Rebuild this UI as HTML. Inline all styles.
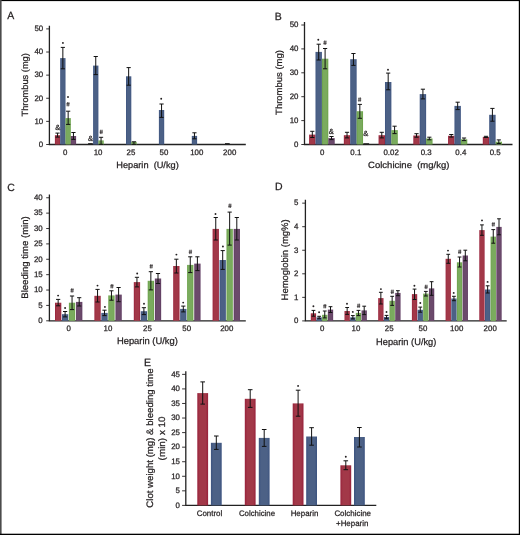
<!DOCTYPE html>
<html><head><meta charset="utf-8"><style>
html,body{margin:0;padding:0;background:#fff;}
svg{display:block;will-change:transform;}
text{font-family:"Liberation Sans",sans-serif;fill:#231f20;text-rendering:geometricPrecision;stroke:#231f20;stroke-width:0.25px;}
</style></head><body>
<svg width="520" height="535" viewBox="0 0 520 535">
<defs>
<linearGradient id="gr" x1="0" x2="1" y1="0" y2="0"><stop offset="0" stop-color="#98203a"/><stop offset="0.22" stop-color="#a23848"/><stop offset="0.78" stop-color="#a23848"/><stop offset="1" stop-color="#98203a"/></linearGradient>
<linearGradient id="gb" x1="0" x2="1" y1="0" y2="0"><stop offset="0" stop-color="#3c5380"/><stop offset="0.22" stop-color="#4c6186"/><stop offset="0.78" stop-color="#4c6186"/><stop offset="1" stop-color="#3c5380"/></linearGradient>
<linearGradient id="gg" x1="0" x2="1" y1="0" y2="0"><stop offset="0" stop-color="#68a044"/><stop offset="0.22" stop-color="#7aab5e"/><stop offset="0.78" stop-color="#7aab5e"/><stop offset="1" stop-color="#68a044"/></linearGradient>
<linearGradient id="gp" x1="0" x2="1" y1="0" y2="0"><stop offset="0" stop-color="#5e3a60"/><stop offset="0.22" stop-color="#6b4a6b"/><stop offset="0.78" stop-color="#6b4a6b"/><stop offset="1" stop-color="#5e3a60"/></linearGradient>
</defs>
<rect x="0" y="0" width="520" height="535" fill="#fff"/>
<path d="M49.40 25.80V144.50H245.80" stroke="#222" stroke-width="1.3" fill="none"/>
<path d="M46.20 144.50H49.40" stroke="#231f20" stroke-width="0.9"/>
<text x="43.20" y="146.80" font-size="7.9" text-anchor="end" >0</text>
<path d="M46.20 121.38H49.40" stroke="#231f20" stroke-width="0.9"/>
<text x="43.20" y="123.68" font-size="7.9" text-anchor="end" >10</text>
<path d="M46.20 98.26H49.40" stroke="#231f20" stroke-width="0.9"/>
<text x="43.20" y="100.56" font-size="7.9" text-anchor="end" >20</text>
<path d="M46.20 75.14H49.40" stroke="#231f20" stroke-width="0.9"/>
<text x="43.20" y="77.44" font-size="7.9" text-anchor="end" >30</text>
<path d="M46.20 52.02H49.40" stroke="#231f20" stroke-width="0.9"/>
<text x="43.20" y="54.32" font-size="7.9" text-anchor="end" >40</text>
<path d="M46.20 28.90H49.40" stroke="#231f20" stroke-width="0.9"/>
<text x="43.20" y="31.20" font-size="7.9" text-anchor="end" >50</text>
<rect x="54.90" y="135.20" width="5.30" height="9.30" fill="url(#gr)"/>
<path d="M57.55 133.10V137.10M55.45 133.10h4.20M55.45 137.10h4.20" stroke="#111" stroke-width="1.0" fill="none"/>
<rect x="60.20" y="58.10" width="5.30" height="86.40" fill="url(#gb)"/>
<path d="M62.85 47.40V68.80M60.75 47.40h4.20M60.75 68.80h4.20" stroke="#111" stroke-width="1.0" fill="none"/>
<rect x="65.50" y="118.10" width="5.30" height="26.40" fill="url(#gg)"/>
<path d="M68.15 111.20V124.40M66.05 111.20h4.20M66.05 124.40h4.20" stroke="#111" stroke-width="1.0" fill="none"/>
<rect x="70.80" y="136.00" width="5.30" height="8.50" fill="url(#gp)"/>
<path d="M73.45 132.50V139.40M71.35 132.50h4.20M71.35 139.40h4.20" stroke="#111" stroke-width="1.0" fill="none"/>
<path d="M88.10 143.60H92.80" stroke="#111" stroke-width="0.9"/>
<rect x="93.10" y="65.60" width="5.30" height="78.90" fill="url(#gb)"/>
<path d="M95.75 56.50V74.60M93.65 56.50h4.20M93.65 74.60h4.20" stroke="#111" stroke-width="1.0" fill="none"/>
<rect x="98.40" y="140.40" width="5.30" height="4.10" fill="url(#gg)"/>
<path d="M101.05 137.30V144.30M98.95 137.30h4.20M98.95 144.30h4.20" stroke="#111" stroke-width="1.0" fill="none"/>
<rect x="126.00" y="76.30" width="5.30" height="68.20" fill="url(#gb)"/>
<path d="M128.65 67.60V85.20M126.55 67.60h4.20M126.55 85.20h4.20" stroke="#111" stroke-width="1.0" fill="none"/>
<rect x="131.30" y="141.80" width="5.30" height="2.70" fill="url(#gg)"/>
<path d="M133.95 141.80V144.30M131.85 141.80h4.20M131.85 144.30h4.20" stroke="#111" stroke-width="1.0" fill="none"/>
<rect x="158.90" y="110.00" width="5.30" height="34.50" fill="url(#gb)"/>
<path d="M161.55 104.00V117.40M159.45 104.00h4.20M159.45 117.40h4.20" stroke="#111" stroke-width="1.0" fill="none"/>
<rect x="191.80" y="135.90" width="5.30" height="8.60" fill="url(#gb)"/>
<path d="M194.45 132.80V138.80M192.35 132.80h4.20M192.35 138.80h4.20" stroke="#111" stroke-width="1.0" fill="none"/>
<path d="M225.00 143.60H229.70" stroke="#111" stroke-width="0.9"/>
<text x="65.20" y="154.60" font-size="7.9" text-anchor="middle" >0</text>
<text x="98.10" y="154.60" font-size="7.9" text-anchor="middle" >10</text>
<text x="131.00" y="154.60" font-size="7.9" text-anchor="middle" >25</text>
<text x="163.90" y="154.60" font-size="7.9" text-anchor="middle" >50</text>
<text x="196.80" y="154.60" font-size="7.9" text-anchor="middle" >100</text>
<text x="229.70" y="154.60" font-size="7.9" text-anchor="middle" >200</text>
<text x="57.80" y="130.00" font-size="7.5" text-anchor="middle" >&amp;</text>
<circle cx="62.90" cy="42.90" r="0.95" fill="#231f20"/>
<path d="M67.50 102.00L67.20 106.40M68.90 102.00L68.60 106.40M66.40 103.45H69.70M66.30 104.95H69.60" stroke="#231f20" stroke-width="0.65" fill="none"/>
<circle cx="68.00" cy="97.00" r="0.95" fill="#231f20"/>
<text x="90.60" y="141.00" font-size="7.5" text-anchor="middle" >&amp;</text>
<path d="M100.70 129.70L100.40 134.10M102.10 129.70L101.80 134.10M99.60 131.15H102.90M99.50 132.65H102.80" stroke="#231f20" stroke-width="0.65" fill="none"/>
<circle cx="161.20" cy="98.80" r="0.95" fill="#231f20"/>
<text x="147.50" y="167.70" font-size="9" text-anchor="middle" textLength="62.5" lengthAdjust="spacingAndGlyphs">Heparin&#160;&#160;(U/kg)</text>
<text transform="translate(28.0 84.8) rotate(-90)" font-size="9" text-anchor="middle" textLength="63.3" lengthAdjust="spacingAndGlyphs">Thrombus (mg)</text>
<text x="10.80" y="19.40" font-size="10.5" text-anchor="middle" >A</text>
<path d="M304.50 22.10V144.50H512.50" stroke="#222" stroke-width="1.3" fill="none"/>
<path d="M301.30 144.50H304.50" stroke="#231f20" stroke-width="0.9"/>
<text x="298.50" y="146.80" font-size="7.9" text-anchor="end" >0</text>
<path d="M301.30 120.60H304.50" stroke="#231f20" stroke-width="0.9"/>
<text x="298.50" y="122.90" font-size="7.9" text-anchor="end" >10</text>
<path d="M301.30 96.70H304.50" stroke="#231f20" stroke-width="0.9"/>
<text x="298.50" y="99.00" font-size="7.9" text-anchor="end" >20</text>
<path d="M301.30 72.80H304.50" stroke="#231f20" stroke-width="0.9"/>
<text x="298.50" y="75.10" font-size="7.9" text-anchor="end" >30</text>
<path d="M301.30 48.90H304.50" stroke="#231f20" stroke-width="0.9"/>
<text x="298.50" y="51.20" font-size="7.9" text-anchor="end" >40</text>
<path d="M301.30 25.00H304.50" stroke="#231f20" stroke-width="0.9"/>
<text x="298.50" y="27.30" font-size="7.9" text-anchor="end" >50</text>
<rect x="309.10" y="134.60" width="6.40" height="9.90" fill="url(#gr)"/>
<path d="M312.30 131.30V137.50M310.20 131.30h4.20M310.20 137.50h4.20" stroke="#111" stroke-width="1.0" fill="none"/>
<rect x="315.50" y="51.90" width="6.40" height="92.60" fill="url(#gb)"/>
<path d="M318.70 44.20V60.00M316.60 44.20h4.20M316.60 60.00h4.20" stroke="#111" stroke-width="1.0" fill="none"/>
<rect x="321.90" y="58.70" width="6.40" height="85.80" fill="url(#gg)"/>
<path d="M325.10 48.50V68.80M323.00 48.50h4.20M323.00 68.80h4.20" stroke="#111" stroke-width="1.0" fill="none"/>
<rect x="328.30" y="138.10" width="6.40" height="6.40" fill="url(#gp)"/>
<path d="M331.50 136.50V139.60M329.40 136.50h4.20M329.40 139.60h4.20" stroke="#111" stroke-width="1.0" fill="none"/>
<rect x="343.84" y="135.20" width="6.40" height="9.30" fill="url(#gr)"/>
<path d="M347.04 132.30V137.90M344.94 132.30h4.20M344.94 137.90h4.20" stroke="#111" stroke-width="1.0" fill="none"/>
<rect x="350.24" y="59.20" width="6.40" height="85.30" fill="url(#gb)"/>
<path d="M353.44 53.50V65.40M351.34 53.50h4.20M351.34 65.40h4.20" stroke="#111" stroke-width="1.0" fill="none"/>
<rect x="356.64" y="111.20" width="6.40" height="33.30" fill="url(#gg)"/>
<path d="M359.84 104.40V118.30M357.74 104.40h4.20M357.74 118.30h4.20" stroke="#111" stroke-width="1.0" fill="none"/>
<path d="M363.34 143.70H369.14" stroke="#111" stroke-width="0.9"/>
<rect x="378.58" y="135.20" width="6.40" height="9.30" fill="url(#gr)"/>
<path d="M381.78 132.30V137.90M379.68 132.30h4.20M379.68 137.90h4.20" stroke="#111" stroke-width="1.0" fill="none"/>
<rect x="384.98" y="82.00" width="6.40" height="62.50" fill="url(#gb)"/>
<path d="M388.18 73.10V89.80M386.08 73.10h4.20M386.08 89.80h4.20" stroke="#111" stroke-width="1.0" fill="none"/>
<rect x="391.38" y="130.10" width="6.40" height="14.40" fill="url(#gg)"/>
<path d="M394.58 126.20V133.60M392.48 126.20h4.20M392.48 133.60h4.20" stroke="#111" stroke-width="1.0" fill="none"/>
<rect x="413.32" y="135.50" width="6.40" height="9.00" fill="url(#gr)"/>
<path d="M416.52 133.70V137.20M414.42 133.70h4.20M414.42 137.20h4.20" stroke="#111" stroke-width="1.0" fill="none"/>
<rect x="419.72" y="94.10" width="6.40" height="50.40" fill="url(#gb)"/>
<path d="M422.92 89.20V98.90M420.82 89.20h4.20M420.82 98.90h4.20" stroke="#111" stroke-width="1.0" fill="none"/>
<rect x="426.12" y="138.50" width="6.40" height="6.00" fill="url(#gg)"/>
<path d="M429.32 137.20V139.80M427.22 137.20h4.20M427.22 139.80h4.20" stroke="#111" stroke-width="1.0" fill="none"/>
<rect x="448.06" y="135.80" width="6.40" height="8.70" fill="url(#gr)"/>
<path d="M451.26 134.50V137.10M449.16 134.50h4.20M449.16 137.10h4.20" stroke="#111" stroke-width="1.0" fill="none"/>
<rect x="454.46" y="105.90" width="6.40" height="38.60" fill="url(#gb)"/>
<path d="M457.66 102.20V109.60M455.56 102.20h4.20M455.56 109.60h4.20" stroke="#111" stroke-width="1.0" fill="none"/>
<rect x="460.86" y="139.30" width="6.40" height="5.20" fill="url(#gg)"/>
<path d="M464.06 138.00V140.60M461.96 138.00h4.20M461.96 140.60h4.20" stroke="#111" stroke-width="1.0" fill="none"/>
<rect x="482.80" y="136.90" width="6.40" height="7.60" fill="url(#gr)"/>
<path d="M486.00 136.30V137.50M483.90 136.30h4.20M483.90 137.50h4.20" stroke="#111" stroke-width="1.0" fill="none"/>
<rect x="489.20" y="114.80" width="6.40" height="29.70" fill="url(#gb)"/>
<path d="M492.40 108.40V121.20M490.30 108.40h4.20M490.30 121.20h4.20" stroke="#111" stroke-width="1.0" fill="none"/>
<rect x="495.60" y="141.70" width="6.40" height="2.80" fill="url(#gg)"/>
<path d="M498.80 139.90V143.50M496.70 139.90h4.20M496.70 143.50h4.20" stroke="#111" stroke-width="1.0" fill="none"/>
<text x="322.10" y="154.80" font-size="7.9" text-anchor="middle" >0</text>
<text x="355.80" y="154.80" font-size="7.9" text-anchor="middle" >0.1</text>
<text x="391.10" y="154.80" font-size="7.9" text-anchor="middle" >0.02</text>
<text x="426.20" y="154.80" font-size="7.9" text-anchor="middle" >0.3</text>
<text x="460.80" y="154.80" font-size="7.9" text-anchor="middle" >0.4</text>
<text x="495.20" y="154.80" font-size="7.9" text-anchor="middle" >0.5</text>
<circle cx="318.30" cy="39.80" r="0.95" fill="#231f20"/>
<path d="M324.50 40.50L324.20 44.90M325.90 40.50L325.60 44.90M323.40 41.95H326.70M323.30 43.45H326.60" stroke="#231f20" stroke-width="0.65" fill="none"/>
<text x="331.30" y="133.50" font-size="7.5" text-anchor="middle" >&amp;</text>
<path d="M359.10 97.40L358.80 101.80M360.50 97.40L360.20 101.80M358.00 98.85H361.30M357.90 100.35H361.20" stroke="#231f20" stroke-width="0.65" fill="none"/>
<text x="365.80" y="135.70" font-size="7.5" text-anchor="middle" >&amp;</text>
<circle cx="388.00" cy="69.80" r="0.95" fill="#231f20"/>
<text x="408.75" y="168.30" font-size="9" text-anchor="middle" textLength="81.3" lengthAdjust="spacingAndGlyphs">Colchicine&#160;&#160;(mg/kg)</text>
<text transform="translate(282.0 82.5) rotate(-90)" font-size="9" text-anchor="middle" textLength="64.8" lengthAdjust="spacingAndGlyphs">Thrombus (mg)</text>
<text x="278.20" y="19.60" font-size="10.5" text-anchor="middle" >B</text>
<path d="M49.40 194.40V320.80H245.80" stroke="#222" stroke-width="1.3" fill="none"/>
<path d="M46.20 320.80H49.40" stroke="#231f20" stroke-width="0.9"/>
<text x="42.70" y="323.10" font-size="7.9" text-anchor="end" >0</text>
<path d="M46.20 305.42H49.40" stroke="#231f20" stroke-width="0.9"/>
<text x="42.70" y="307.72" font-size="7.9" text-anchor="end" >5</text>
<path d="M46.20 290.04H49.40" stroke="#231f20" stroke-width="0.9"/>
<text x="42.70" y="292.34" font-size="7.9" text-anchor="end" >10</text>
<path d="M46.20 274.66H49.40" stroke="#231f20" stroke-width="0.9"/>
<text x="42.70" y="276.96" font-size="7.9" text-anchor="end" >15</text>
<path d="M46.20 259.28H49.40" stroke="#231f20" stroke-width="0.9"/>
<text x="42.70" y="261.58" font-size="7.9" text-anchor="end" >20</text>
<path d="M46.20 243.90H49.40" stroke="#231f20" stroke-width="0.9"/>
<text x="42.70" y="246.20" font-size="7.9" text-anchor="end" >25</text>
<path d="M46.20 228.52H49.40" stroke="#231f20" stroke-width="0.9"/>
<text x="42.70" y="230.82" font-size="7.9" text-anchor="end" >30</text>
<path d="M46.20 213.14H49.40" stroke="#231f20" stroke-width="0.9"/>
<text x="42.70" y="215.44" font-size="7.9" text-anchor="end" >35</text>
<path d="M46.20 197.76H49.40" stroke="#231f20" stroke-width="0.9"/>
<text x="42.70" y="200.06" font-size="7.9" text-anchor="end" >40</text>
<rect x="55.00" y="302.70" width="6.30" height="18.10" fill="url(#gr)"/>
<path d="M58.15 299.40V305.80M56.05 299.40h4.20M56.05 305.80h4.20" stroke="#111" stroke-width="1.0" fill="none"/>
<rect x="61.95" y="314.20" width="6.30" height="6.60" fill="url(#gb)"/>
<path d="M65.10 311.50V316.90M63.00 311.50h4.20M63.00 316.90h4.20" stroke="#111" stroke-width="1.0" fill="none"/>
<rect x="68.90" y="302.70" width="6.30" height="18.10" fill="url(#gg)"/>
<path d="M72.05 296.00V309.60M69.95 296.00h4.20M69.95 309.60h4.20" stroke="#111" stroke-width="1.0" fill="none"/>
<rect x="76.05" y="301.90" width="6.30" height="18.90" fill="url(#gp)"/>
<path d="M79.20 297.70V306.00M77.10 297.70h4.20M77.10 306.00h4.20" stroke="#111" stroke-width="1.0" fill="none"/>
<rect x="94.40" y="295.80" width="6.30" height="25.00" fill="url(#gr)"/>
<path d="M97.55 289.40V302.00M95.45 289.40h4.20M95.45 302.00h4.20" stroke="#111" stroke-width="1.0" fill="none"/>
<rect x="101.35" y="312.90" width="6.30" height="7.90" fill="url(#gb)"/>
<path d="M104.50 310.20V315.60M102.40 310.20h4.20M102.40 315.60h4.20" stroke="#111" stroke-width="1.0" fill="none"/>
<rect x="108.30" y="295.40" width="6.30" height="25.40" fill="url(#gg)"/>
<path d="M111.45 290.80V300.20M109.35 290.80h4.20M109.35 300.20h4.20" stroke="#111" stroke-width="1.0" fill="none"/>
<rect x="115.45" y="294.60" width="6.30" height="26.20" fill="url(#gp)"/>
<path d="M118.60 287.50V301.70M116.50 287.50h4.20M116.50 301.70h4.20" stroke="#111" stroke-width="1.0" fill="none"/>
<rect x="133.80" y="282.10" width="6.30" height="38.70" fill="url(#gr)"/>
<path d="M136.95 277.30V286.90M134.85 277.30h4.20M134.85 286.90h4.20" stroke="#111" stroke-width="1.0" fill="none"/>
<rect x="140.75" y="311.20" width="6.30" height="9.60" fill="url(#gb)"/>
<path d="M143.90 307.70V314.60M141.80 307.70h4.20M141.80 314.60h4.20" stroke="#111" stroke-width="1.0" fill="none"/>
<rect x="147.70" y="280.80" width="6.30" height="40.00" fill="url(#gg)"/>
<path d="M150.85 271.70V289.90M148.75 271.70h4.20M148.75 289.90h4.20" stroke="#111" stroke-width="1.0" fill="none"/>
<rect x="154.85" y="278.50" width="6.30" height="42.30" fill="url(#gp)"/>
<path d="M158.00 273.50V283.50M155.90 273.50h4.20M155.90 283.50h4.20" stroke="#111" stroke-width="1.0" fill="none"/>
<rect x="173.20" y="266.00" width="6.30" height="54.80" fill="url(#gr)"/>
<path d="M176.35 259.20V273.00M174.25 259.20h4.20M174.25 273.00h4.20" stroke="#111" stroke-width="1.0" fill="none"/>
<rect x="180.15" y="308.90" width="6.30" height="11.90" fill="url(#gb)"/>
<path d="M183.30 306.10V311.90M181.20 306.10h4.20M181.20 311.90h4.20" stroke="#111" stroke-width="1.0" fill="none"/>
<rect x="187.10" y="264.90" width="6.30" height="55.90" fill="url(#gg)"/>
<path d="M190.25 256.80V272.60M188.15 256.80h4.20M188.15 272.60h4.20" stroke="#111" stroke-width="1.0" fill="none"/>
<rect x="194.25" y="263.60" width="6.30" height="57.20" fill="url(#gp)"/>
<path d="M197.40 256.80V270.60M195.30 256.80h4.20M195.30 270.60h4.20" stroke="#111" stroke-width="1.0" fill="none"/>
<rect x="212.60" y="228.90" width="6.30" height="91.90" fill="url(#gr)"/>
<path d="M215.75 217.50V240.00M213.65 217.50h4.20M213.65 240.00h4.20" stroke="#111" stroke-width="1.0" fill="none"/>
<rect x="219.55" y="260.00" width="6.30" height="60.80" fill="url(#gb)"/>
<path d="M222.70 250.60V269.40M220.60 250.60h4.20M220.60 269.40h4.20" stroke="#111" stroke-width="1.0" fill="none"/>
<rect x="226.50" y="228.90" width="6.30" height="91.90" fill="url(#gg)"/>
<path d="M229.65 212.10V245.10M227.55 212.10h4.20M227.55 245.10h4.20" stroke="#111" stroke-width="1.0" fill="none"/>
<rect x="233.65" y="228.90" width="6.30" height="91.90" fill="url(#gp)"/>
<path d="M236.80 217.50V240.00M234.70 217.50h4.20M234.70 240.00h4.20" stroke="#111" stroke-width="1.0" fill="none"/>
<text x="68.70" y="331.00" font-size="7.9" text-anchor="middle" >0</text>
<text x="107.90" y="331.00" font-size="7.9" text-anchor="middle" >10</text>
<text x="147.40" y="331.00" font-size="7.9" text-anchor="middle" >25</text>
<text x="186.70" y="331.00" font-size="7.9" text-anchor="middle" >50</text>
<text x="226.80" y="331.00" font-size="7.9" text-anchor="middle" >200</text>
<circle cx="58.10" cy="295.60" r="0.95" fill="#231f20"/>
<circle cx="65.10" cy="308.00" r="0.95" fill="#231f20"/>
<circle cx="97.50" cy="285.60" r="0.95" fill="#231f20"/>
<circle cx="104.90" cy="306.90" r="0.95" fill="#231f20"/>
<circle cx="137.20" cy="273.50" r="0.95" fill="#231f20"/>
<circle cx="144.00" cy="303.80" r="0.95" fill="#231f20"/>
<circle cx="176.40" cy="254.60" r="0.95" fill="#231f20"/>
<circle cx="183.20" cy="302.60" r="0.95" fill="#231f20"/>
<circle cx="215.50" cy="214.00" r="0.95" fill="#231f20"/>
<circle cx="222.90" cy="246.50" r="0.95" fill="#231f20"/>
<path d="M71.60 288.20L71.30 292.60M73.00 288.20L72.70 292.60M70.50 289.65H73.80M70.40 291.15H73.70" stroke="#231f20" stroke-width="0.65" fill="none"/>
<path d="M111.40 284.00L111.10 288.40M112.80 284.00L112.50 288.40M110.30 285.45H113.60M110.20 286.95H113.50" stroke="#231f20" stroke-width="0.65" fill="none"/>
<path d="M150.70 264.10L150.40 268.50M152.10 264.10L151.80 268.50M149.60 265.55H152.90M149.50 267.05H152.80" stroke="#231f20" stroke-width="0.65" fill="none"/>
<path d="M189.90 249.70L189.60 254.10M191.30 249.70L191.00 254.10M188.80 251.15H192.10M188.70 252.65H192.00" stroke="#231f20" stroke-width="0.65" fill="none"/>
<path d="M229.40 203.60L229.10 208.00M230.80 203.60L230.50 208.00M228.30 205.05H231.60M228.20 206.55H231.50" stroke="#231f20" stroke-width="0.65" fill="none"/>
<text x="147.40" y="344.40" font-size="9.4" text-anchor="middle" textLength="61" lengthAdjust="spacingAndGlyphs">Heparin (U/kg)</text>
<text transform="translate(27.6 257.5) rotate(-90)" font-size="9.4" text-anchor="middle" textLength="82.5" lengthAdjust="spacingAndGlyphs">Bleeding time (min)</text>
<text x="11.00" y="190.60" font-size="10.5" text-anchor="middle" >C</text>
<path d="M305.40 199.80V320.90H506.70" stroke="#222" stroke-width="1.3" fill="none"/>
<path d="M302.20 320.90H305.40" stroke="#231f20" stroke-width="0.9"/>
<text x="298.50" y="323.20" font-size="7.9" text-anchor="end" >0</text>
<path d="M302.20 297.35H305.40" stroke="#231f20" stroke-width="0.9"/>
<text x="298.50" y="299.65" font-size="7.9" text-anchor="end" >1</text>
<path d="M302.20 273.80H305.40" stroke="#231f20" stroke-width="0.9"/>
<text x="298.50" y="276.10" font-size="7.9" text-anchor="end" >2</text>
<path d="M302.20 250.25H305.40" stroke="#231f20" stroke-width="0.9"/>
<text x="298.50" y="252.55" font-size="7.9" text-anchor="end" >3</text>
<path d="M302.20 226.70H305.40" stroke="#231f20" stroke-width="0.9"/>
<text x="298.50" y="229.00" font-size="7.9" text-anchor="end" >4</text>
<path d="M302.20 203.15H305.40" stroke="#231f20" stroke-width="0.9"/>
<text x="298.50" y="205.45" font-size="7.9" text-anchor="end" >5</text>
<rect x="310.80" y="313.30" width="5.30" height="7.60" fill="url(#gr)"/>
<path d="M313.45 310.40V316.20M311.55 310.40h3.80M311.55 316.20h3.80" stroke="#111" stroke-width="1.0" fill="none"/>
<rect x="316.50" y="317.30" width="5.30" height="3.60" fill="url(#gb)"/>
<path d="M319.15 316.30V318.70M317.25 316.30h3.80M317.25 318.70h3.80" stroke="#111" stroke-width="1.0" fill="none"/>
<rect x="322.10" y="314.80" width="5.30" height="6.10" fill="url(#gg)"/>
<path d="M324.75 311.00V317.90M322.85 311.00h3.80M322.85 317.90h3.80" stroke="#111" stroke-width="1.0" fill="none"/>
<rect x="327.85" y="309.60" width="5.30" height="11.30" fill="url(#gp)"/>
<path d="M330.50 306.70V312.50M328.60 306.70h3.80M328.60 312.50h3.80" stroke="#111" stroke-width="1.0" fill="none"/>
<rect x="344.50" y="311.00" width="5.30" height="9.90" fill="url(#gr)"/>
<path d="M347.15 307.50V314.40M345.25 307.50h3.80M345.25 314.40h3.80" stroke="#111" stroke-width="1.0" fill="none"/>
<rect x="350.20" y="317.30" width="5.30" height="3.60" fill="url(#gb)"/>
<path d="M352.85 315.60V318.90M350.95 315.60h3.80M350.95 318.90h3.80" stroke="#111" stroke-width="1.0" fill="none"/>
<rect x="355.80" y="312.90" width="5.30" height="8.00" fill="url(#gg)"/>
<path d="M358.45 310.40V315.60M356.55 310.40h3.80M356.55 315.60h3.80" stroke="#111" stroke-width="1.0" fill="none"/>
<rect x="361.55" y="310.40" width="5.30" height="10.50" fill="url(#gp)"/>
<path d="M364.20 306.20V314.60M362.30 306.20h3.80M362.30 314.60h3.80" stroke="#111" stroke-width="1.0" fill="none"/>
<rect x="378.20" y="298.10" width="5.30" height="22.80" fill="url(#gr)"/>
<path d="M380.85 292.30V304.00M378.95 292.30h3.80M378.95 304.00h3.80" stroke="#111" stroke-width="1.0" fill="none"/>
<rect x="383.90" y="317.00" width="5.30" height="3.90" fill="url(#gb)"/>
<path d="M386.55 315.40V318.70M384.65 315.40h3.80M384.65 318.70h3.80" stroke="#111" stroke-width="1.0" fill="none"/>
<rect x="389.50" y="300.80" width="5.30" height="20.10" fill="url(#gg)"/>
<path d="M392.15 296.30V305.40M390.25 296.30h3.80M390.25 305.40h3.80" stroke="#111" stroke-width="1.0" fill="none"/>
<rect x="395.25" y="292.90" width="5.30" height="28.00" fill="url(#gp)"/>
<path d="M397.90 290.70V295.70M396.00 290.70h3.80M396.00 295.70h3.80" stroke="#111" stroke-width="1.0" fill="none"/>
<rect x="411.90" y="294.10" width="5.30" height="26.80" fill="url(#gr)"/>
<path d="M414.55 289.10V299.50M412.65 289.10h3.80M412.65 299.50h3.80" stroke="#111" stroke-width="1.0" fill="none"/>
<rect x="417.60" y="309.80" width="5.30" height="11.10" fill="url(#gb)"/>
<path d="M420.25 307.10V312.20M418.35 307.10h3.80M418.35 312.20h3.80" stroke="#111" stroke-width="1.0" fill="none"/>
<rect x="423.20" y="293.60" width="5.30" height="27.30" fill="url(#gg)"/>
<path d="M425.85 291.40V296.00M423.95 291.40h3.80M423.95 296.00h3.80" stroke="#111" stroke-width="1.0" fill="none"/>
<rect x="428.95" y="288.40" width="5.30" height="32.50" fill="url(#gp)"/>
<path d="M431.60 281.70V295.30M429.70 281.70h3.80M429.70 295.30h3.80" stroke="#111" stroke-width="1.0" fill="none"/>
<rect x="445.60" y="258.80" width="5.30" height="62.10" fill="url(#gr)"/>
<path d="M448.25 254.30V263.30M446.35 254.30h3.80M446.35 263.30h3.80" stroke="#111" stroke-width="1.0" fill="none"/>
<rect x="451.30" y="298.50" width="5.30" height="22.40" fill="url(#gb)"/>
<path d="M453.95 296.30V300.70M452.05 296.30h3.80M452.05 300.70h3.80" stroke="#111" stroke-width="1.0" fill="none"/>
<rect x="456.90" y="262.30" width="5.30" height="58.60" fill="url(#gg)"/>
<path d="M459.55 257.00V267.00M457.65 257.00h3.80M457.65 267.00h3.80" stroke="#111" stroke-width="1.0" fill="none"/>
<rect x="462.65" y="255.50" width="5.30" height="65.40" fill="url(#gp)"/>
<path d="M465.30 250.20V260.80M463.40 250.20h3.80M463.40 260.80h3.80" stroke="#111" stroke-width="1.0" fill="none"/>
<rect x="479.30" y="230.10" width="5.30" height="90.80" fill="url(#gr)"/>
<path d="M481.95 224.90V235.30M480.05 224.90h3.80M480.05 235.30h3.80" stroke="#111" stroke-width="1.0" fill="none"/>
<rect x="485.00" y="289.50" width="5.30" height="31.40" fill="url(#gb)"/>
<path d="M487.65 285.80V293.00M485.75 285.80h3.80M485.75 293.00h3.80" stroke="#111" stroke-width="1.0" fill="none"/>
<rect x="490.60" y="236.60" width="5.30" height="84.30" fill="url(#gg)"/>
<path d="M493.25 229.60V243.20M491.35 229.60h3.80M491.35 243.20h3.80" stroke="#111" stroke-width="1.0" fill="none"/>
<rect x="496.35" y="226.90" width="5.30" height="94.00" fill="url(#gp)"/>
<path d="M499.00 218.80V234.80M497.10 218.80h3.80M497.10 234.80h3.80" stroke="#111" stroke-width="1.0" fill="none"/>
<text x="322.10" y="331.00" font-size="7.9" text-anchor="middle" >0</text>
<text x="356.00" y="331.00" font-size="7.9" text-anchor="middle" >10</text>
<text x="389.20" y="331.00" font-size="7.9" text-anchor="middle" >25</text>
<text x="423.00" y="331.00" font-size="7.9" text-anchor="middle" >50</text>
<text x="456.70" y="331.00" font-size="7.9" text-anchor="middle" >100</text>
<text x="490.20" y="331.00" font-size="7.9" text-anchor="middle" >200</text>
<circle cx="313.40" cy="306.20" r="0.95" fill="#231f20"/>
<circle cx="319.10" cy="312.30" r="0.95" fill="#231f20"/>
<circle cx="347.00" cy="303.80" r="0.95" fill="#231f20"/>
<circle cx="352.80" cy="311.90" r="0.95" fill="#231f20"/>
<circle cx="380.90" cy="289.10" r="0.95" fill="#231f20"/>
<circle cx="386.50" cy="312.00" r="0.95" fill="#231f20"/>
<circle cx="414.40" cy="285.80" r="0.95" fill="#231f20"/>
<circle cx="420.30" cy="303.00" r="0.95" fill="#231f20"/>
<circle cx="448.00" cy="250.60" r="0.95" fill="#231f20"/>
<circle cx="453.70" cy="292.90" r="0.95" fill="#231f20"/>
<circle cx="482.00" cy="220.40" r="0.95" fill="#231f20"/>
<circle cx="487.60" cy="281.90" r="0.95" fill="#231f20"/>
<path d="M324.30 304.00L324.00 308.40M325.70 304.00L325.40 308.40M323.20 305.45H326.50M323.10 306.95H326.40" stroke="#231f20" stroke-width="0.65" fill="none"/>
<path d="M358.10 303.60L357.80 308.00M359.50 303.60L359.20 308.00M357.00 305.05H360.30M356.90 306.55H360.20" stroke="#231f20" stroke-width="0.65" fill="none"/>
<path d="M391.80 289.60L391.50 294.00M393.20 289.60L392.90 294.00M390.70 291.05H394.00M390.60 292.55H393.90" stroke="#231f20" stroke-width="0.65" fill="none"/>
<path d="M425.60 284.70L425.30 289.10M427.00 284.70L426.70 289.10M424.50 286.15H427.80M424.40 287.65H427.70" stroke="#231f20" stroke-width="0.65" fill="none"/>
<path d="M459.20 249.60L458.90 254.00M460.60 249.60L460.30 254.00M458.10 251.05H461.40M458.00 252.55H461.30" stroke="#231f20" stroke-width="0.65" fill="none"/>
<path d="M492.80 222.10L492.50 226.50M494.20 222.10L493.90 226.50M491.70 223.55H495.00M491.60 225.05H494.90" stroke="#231f20" stroke-width="0.65" fill="none"/>
<text x="406.20" y="344.60" font-size="9.4" text-anchor="middle" textLength="60.3" lengthAdjust="spacingAndGlyphs">Heparin (U/kg)</text>
<text transform="translate(288.2 259.9) rotate(-90)" font-size="9.4" text-anchor="middle" textLength="81" lengthAdjust="spacingAndGlyphs">Hemoglobin (mg%)</text>
<text x="278.80" y="190.00" font-size="10.5" text-anchor="middle" >D</text>
<path d="M185.80 371.30V505.40H376.30" stroke="#222" stroke-width="1.3" fill="none"/>
<path d="M182.10 505.40H185.80" stroke="#231f20" stroke-width="0.9"/>
<text x="180.00" y="507.70" font-size="7.9" text-anchor="end" >0</text>
<path d="M182.10 490.84H185.80" stroke="#231f20" stroke-width="0.9"/>
<text x="180.00" y="493.14" font-size="7.9" text-anchor="end" >5</text>
<path d="M182.10 476.28H185.80" stroke="#231f20" stroke-width="0.9"/>
<text x="180.00" y="478.58" font-size="7.9" text-anchor="end" >10</text>
<path d="M182.10 461.72H185.80" stroke="#231f20" stroke-width="0.9"/>
<text x="180.00" y="464.02" font-size="7.9" text-anchor="end" >15</text>
<path d="M182.10 447.16H185.80" stroke="#231f20" stroke-width="0.9"/>
<text x="180.00" y="449.46" font-size="7.9" text-anchor="end" >20</text>
<path d="M182.10 432.60H185.80" stroke="#231f20" stroke-width="0.9"/>
<text x="180.00" y="434.90" font-size="7.9" text-anchor="end" >25</text>
<path d="M182.10 418.04H185.80" stroke="#231f20" stroke-width="0.9"/>
<text x="180.00" y="420.34" font-size="7.9" text-anchor="end" >30</text>
<path d="M182.10 403.48H185.80" stroke="#231f20" stroke-width="0.9"/>
<text x="180.00" y="405.78" font-size="7.9" text-anchor="end" >35</text>
<path d="M182.10 388.92H185.80" stroke="#231f20" stroke-width="0.9"/>
<text x="180.00" y="391.22" font-size="7.9" text-anchor="end" >40</text>
<path d="M182.10 374.36H185.80" stroke="#231f20" stroke-width="0.9"/>
<text x="180.00" y="376.66" font-size="7.9" text-anchor="end" >45</text>
<rect x="197.30" y="393.10" width="10.80" height="112.30" fill="url(#gr)"/>
<path d="M202.70 381.90V404.10M200.40 381.90h4.60M200.40 404.10h4.60" stroke="#111" stroke-width="1.0" fill="none"/>
<rect x="210.90" y="442.80" width="10.80" height="62.60" fill="url(#gb)"/>
<path d="M216.30 436.00V449.40M214.00 436.00h4.60M214.00 449.40h4.60" stroke="#111" stroke-width="1.0" fill="none"/>
<rect x="244.80" y="398.80" width="10.80" height="106.60" fill="url(#gr)"/>
<path d="M250.20 389.70V407.40M247.90 389.70h4.60M247.90 407.40h4.60" stroke="#111" stroke-width="1.0" fill="none"/>
<rect x="258.80" y="437.90" width="10.80" height="67.50" fill="url(#gb)"/>
<path d="M264.20 429.50V446.40M261.90 429.50h4.60M261.90 446.40h4.60" stroke="#111" stroke-width="1.0" fill="none"/>
<rect x="292.70" y="403.40" width="10.80" height="102.00" fill="url(#gr)"/>
<path d="M298.10 390.20V416.20M295.80 390.20h4.60M295.80 416.20h4.60" stroke="#111" stroke-width="1.0" fill="none"/>
<rect x="306.20" y="436.50" width="10.80" height="68.90" fill="url(#gb)"/>
<path d="M311.60 427.70V445.20M309.30 427.70h4.60M309.30 445.20h4.60" stroke="#111" stroke-width="1.0" fill="none"/>
<rect x="340.40" y="465.30" width="10.80" height="40.10" fill="url(#gr)"/>
<path d="M345.80 460.80V469.70M343.50 460.80h4.60M343.50 469.70h4.60" stroke="#111" stroke-width="1.0" fill="none"/>
<rect x="354.00" y="437.00" width="10.80" height="68.40" fill="url(#gb)"/>
<path d="M359.40 427.50V447.00M357.10 427.50h4.60M357.10 447.00h4.60" stroke="#111" stroke-width="1.0" fill="none"/>
<circle cx="298.10" cy="385.90" r="0.95" fill="#231f20"/>
<circle cx="345.80" cy="456.70" r="0.95" fill="#231f20"/>
<text x="209.50" y="515.80" font-size="8" text-anchor="middle" textLength="25.6" lengthAdjust="spacingAndGlyphs">Control</text>
<text x="257.00" y="515.80" font-size="8" text-anchor="middle" textLength="36.1" lengthAdjust="spacingAndGlyphs">Colchicine</text>
<text x="304.50" y="515.80" font-size="8" text-anchor="middle" textLength="27.7" lengthAdjust="spacingAndGlyphs">Heparin</text>
<text x="352.70" y="515.90" font-size="8" text-anchor="middle" textLength="36.6" lengthAdjust="spacingAndGlyphs">Colchicine</text>
<text x="352.20" y="526.00" font-size="8" text-anchor="middle" textLength="32.3" lengthAdjust="spacingAndGlyphs">+Heparin</text>
<text transform="translate(152.6 438.1) rotate(-90)" font-size="9.4" text-anchor="middle" textLength="139.2" lengthAdjust="spacingAndGlyphs">Clot weight (mg) &amp; bleeding time</text>
<text transform="translate(164.5 438.4) rotate(-90)" font-size="9.4" text-anchor="middle" textLength="44" lengthAdjust="spacingAndGlyphs">(min) x 10</text>
<text x="147.40" y="366.20" font-size="10.5" text-anchor="middle" >E</text>
<rect x="0" y="0" width="520" height="1.1" fill="#000"/><rect x="0" y="0" width="1.6" height="535" fill="#4c4c4c"/><rect x="518.8" y="0" width="1.2" height="535" fill="#000"/><rect x="0" y="533.7" width="520" height="1.3" fill="#000"/>
</svg>
</body></html>
